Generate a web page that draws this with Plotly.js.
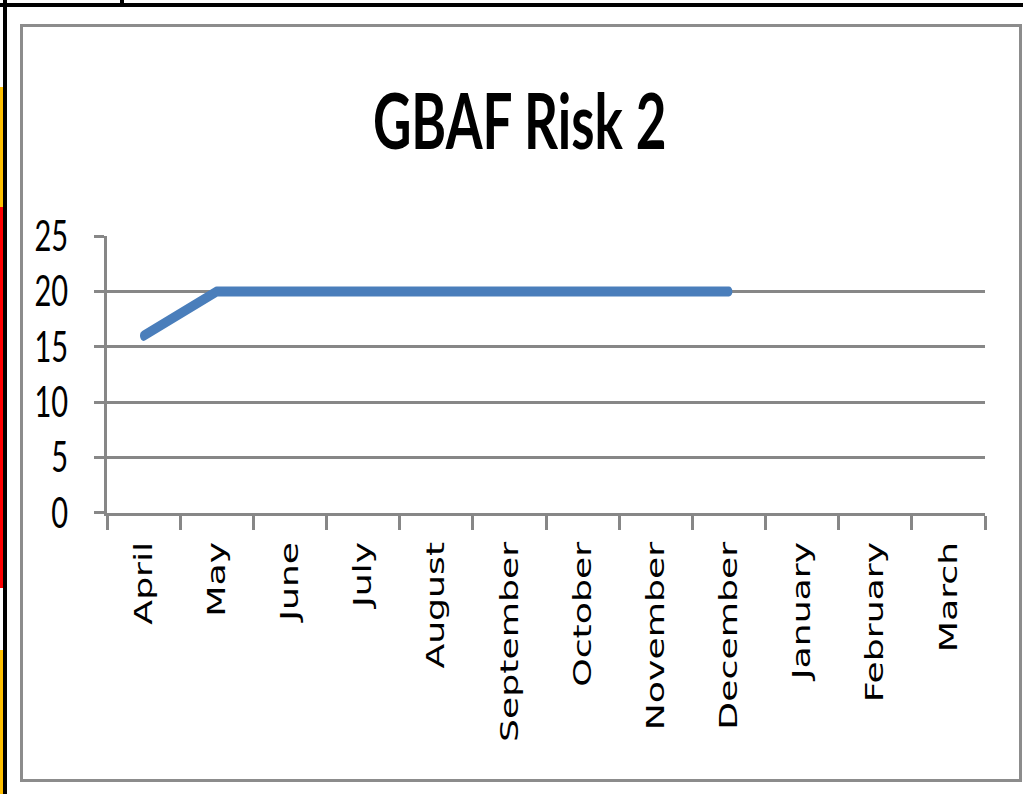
<!DOCTYPE html>
<html>
<head>
<meta charset="utf-8">
<script src="https://cdn.plot.ly/plotly-3.0.1.min.js"></script>
<style>
  html, body { margin:0; padding:0; background:#fff; width:1023px; height:794px; overflow:hidden; }
  #stage { position:absolute; left:0; top:0; width:1023px; height:794px; }
  #plot { position:absolute; left:0; top:0; width:1023px; height:548px; transform-origin:0 0; transform:scaleY(1.4489); }
  #plot .scatterlayer path.js-line { stroke-linecap: round; stroke-linejoin: round; }
  .deco { position:absolute; }
</style>
</head>
<body>
<div id="stage">
  <div class="deco" style="left:20px;top:24px;width:996px;height:752px;border:3px solid #8c8c8c;"></div>
  <div id="plot"></div>
  <div class="deco" style="left:0;top:3px;width:1023px;height:4px;background:#000;"></div>
  <div class="deco" style="left:120px;top:0;width:4px;height:4px;background:#000;"></div>
  <div class="deco" style="left:3px;top:0;width:4px;height:794px;background:#000;"></div>
  <div class="deco" style="left:0;top:87px;width:3px;height:120px;background:#FFC000;"></div>
  <div class="deco" style="left:0;top:207px;width:3px;height:381px;background:#FF0000;"></div>
  <div class="deco" style="left:0;top:650px;width:3px;height:144px;background:#FFC000;"></div>
</div>
<script>
const months = ["April","May","June","July","August","September","October","November","December","January","February","March"];
const riskScore = [16, 20, 20, 20, 20, 20, 20, 20, 20, null, null, null];
const yTicks = [0, 5, 10, 15, 20, 25];
const chartTitle = "GBAF Risk 2";

const grey = "#878787";
const data = [{
  type: "scatter",
  mode: "lines",
  x: months,
  y: riskScore,
  line: { color: "#4A7EBB", width: 7 },
  connectgaps: false,
  hoverinfo: "x+y"
}];

const layout = {
  width: 1023,
  height: 548,
  margin: { l: 107, r: 38, t: 163, b: 194 },
  paper_bgcolor: "rgba(0,0,0,0)",
  plot_bgcolor: "rgba(0,0,0,0)",
  showlegend: false,
  title: {
    text: chartTitle,
    font: { family: "Lato", size: 53, color: "#000", weight: "bold" },
    x: 0.508, xanchor: "center",
    y: 0.846, yanchor: "middle", yref: "container"
  },
  xaxis: {
    type: "category",
    categoryorder: "array",
    categoryarray: months,
    range: [-0.5, 11.5],
    tickson: "boundaries",
    ticks: "outside",
    ticklen: 10,
    tickwidth: 3,
    tickcolor: grey,
    showline: true,
    linecolor: grey,
    linewidth: 2,
    showgrid: false,
    zeroline: false,
    tickangle: -90,
    ticklabelstandoff: 8,
    tickfont: { family: "DejaVu Sans", size: 25, color: "#000" },
    fixedrange: true
  },
  yaxis: {
    range: [0, 25],
    tickmode: "array",
    tickvals: yTicks,
    ticktext: yTicks.map(String),
    ticks: "outside",
    ticklen: 10,
    tickwidth: 2,
    tickcolor: grey,
    showline: true,
    linecolor: grey,
    linewidth: 3,
    showgrid: true,
    gridcolor: grey,
    gridwidth: 2,
    zeroline: false,
    ticklabelstandoff: 20,
    tickfont: { family: "Lato", size: 29, color: "#000" },
    fixedrange: true
  }
};

Plotly.newPlot("plot", data, layout, { displayModeBar: false, staticPlot: true });
</script>
</body>
</html>
